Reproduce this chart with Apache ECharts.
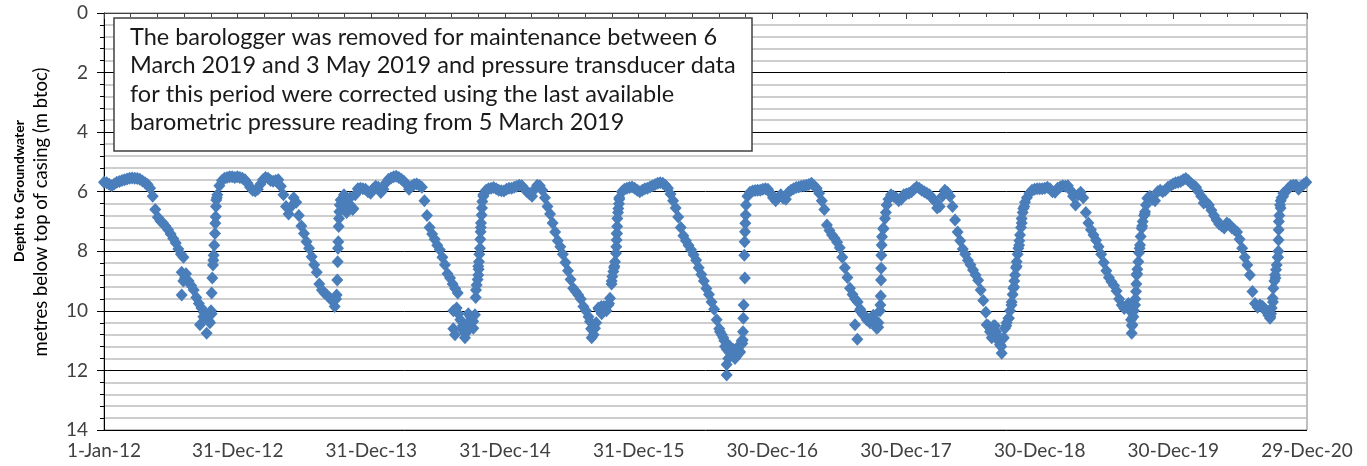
<!DOCTYPE html>
<html>
<head>
<meta charset="utf-8">
<script src="https://cdn.jsdelivr.net/npm/echarts@6/dist/echarts.min.js"></script>
<style>
  html, body { margin: 0; padding: 0; background: #fff; }
  #chart { width: 1367px; height: 466px; }
</style>
</head>
<body>
<div id="chart"></div>
<script>
  // weekly readings, depth in m btoc, counted from 1 Jan 2012 (7 days apart)
  const WEEK = 7;
  const depth2012 = [5.68, 5.7, 5.75, 5.8, 5.74, 5.68, 5.66, 5.62, 5.6, 5.57, 5.55, 5.54, 5.55, 5.56, 5.58, 5.64, 5.7, 5.76, 5.88, 6.15, 6.6, 6.86, 6.98, 7.05, 7.16, 7.28, 7.42, 7.57, 7.72, 7.92, 8.1, 8.2, 8.75, 9.0, 9.15, 9.3, 9.55, 9.75, 9.9, 10.05, 10.2, 10.35, 10.1, 7.8, 6.2, 5.8, 5.62, 5.55, 5.52, 5.5, 5.5, 5.52];
  const depth2013 = [5.5, 5.52, 5.55, 5.6, 5.72, 5.85, 5.95, 5.98, 5.92, 5.75, 5.6, 5.52, 5.55, 5.62, 5.65, 5.62, 5.6, 5.82, 6.1, 6.5, 6.75, 6.5, 6.2, 6.35, 6.8, 7.15, 7.4, 7.68, 7.9, 8.18, 8.45, 8.7, 9.1, 9.3, 9.4, 9.48, 9.56, 9.66, 9.85, 8.96, 6.45, 6.4, 6.3, 6.55, 6.45, 6.6, 6.1, 5.9, 5.88, 5.9, 5.92, 6.0];
  const depth2014 = [6.05, 5.9, 5.82, 5.85, 6.03, 5.92, 5.7, 5.58, 5.54, 5.5, 5.48, 5.52, 5.58, 5.65, 5.75, 5.92, 5.82, 5.76, 5.74, 5.78, 5.85, 6.3, 6.8, 7.2, 7.42, 7.6, 7.8, 7.95, 8.2, 8.45, 8.75, 8.9, 9.1, 9.25, 9.4, 10.3, 10.5, 10.75, 10.4, 10.2, 10.35, 9.55, 8.5, 7.2, 6.15, 5.95, 5.9, 5.88, 5.86, 5.9, 5.95, 5.97];
  const depth2015 = [5.98, 5.92, 5.88, 5.88, 5.85, 5.82, 5.78, 5.8, 5.9, 6.0, 6.08, 6.15, 5.92, 5.78, 5.8, 5.95, 6.2, 6.5, 6.75, 7.05, 7.35, 7.65, 7.85, 8.1, 8.38, 8.65, 8.95, 9.24, 9.35, 9.47, 9.6, 9.85, 10.0, 10.2, 10.6, 10.8, 10.4, 9.95, 9.85, 9.85, 10.0, 9.75, 9.1, 8.55, 7.4, 6.25, 6.0, 5.92, 5.88, 5.86, 5.84, 5.88];
  const depth2016 = [5.95, 6.0, 5.95, 5.9, 5.88, 5.84, 5.8, 5.76, 5.72, 5.7, 5.72, 5.78, 5.88, 6.08, 6.3, 6.55, 6.85, 7.2, 7.48, 7.65, 7.8, 7.95, 8.12, 8.3, 8.55, 8.78, 9.0, 9.25, 9.45, 9.7, 9.95, 10.3, 10.6, 10.8, 11.0, 11.3, 11.4, 11.35, 11.4, 11.5, 11.4, 11.1, 8.9, 6.15, 6.02, 5.98, 5.96, 5.95, 5.95, 5.92, 5.9, 5.92];
  const depth2017 = [6.05, 6.2, 6.3, 6.2, 6.1, 6.22, 6.25, 6.02, 5.95, 5.9, 5.86, 5.84, 5.82, 5.8, 5.78, 5.76, 5.72, 5.8, 5.88, 6.05, 6.3, 6.6, 7.12, 7.3, 7.45, 7.56, 7.7, 7.88, 8.2, 8.55, 8.88, 9.24, 9.45, 9.6, 9.7, 9.95, 10.1, 10.2, 10.28, 10.35, 10.25, 10.45, 10.55, 9.5, 7.25, 6.7, 6.25, 6.1, 6.15, 6.2, 6.3, 6.25];
  const depth2018 = [6.1, 6.08, 6.05, 6.0, 5.92, 5.84, 5.88, 5.95, 6.0, 6.05, 6.1, 6.2, 6.3, 6.55, 6.5, 6.15, 5.95, 6.02, 6.15, 6.5, 6.95, 7.35, 7.65, 7.92, 8.1, 8.3, 8.45, 8.63, 8.8, 8.97, 9.3, 9.65, 10.05, 10.5, 10.65, 10.5, 10.7, 10.95, 11.2, 10.9, 10.5, 10.25, 9.8, 9.2, 8.5, 7.8, 7.05, 6.5, 6.2, 6.05, 5.95, 5.92];
  const depth2019 = [5.9, 5.9, 5.9, 5.88, 5.85, 5.9, 6.0, 6.02, 5.88, 5.84, 5.8, 5.82, 5.8, 5.95, 6.15, 6.45, 6.1, 6.02, 6.2, 6.7, 7.05, 7.28, 7.45, 7.63, 7.85, 8.1, 8.38, 8.65, 8.88, 9.02, 9.15, 9.33, 9.6, 9.8, 9.92, 9.82, 9.95, 10.5, 9.8, 8.75, 7.9, 7.15, 6.75, 6.22, 6.15, 6.25, 6.3, 6.0, 5.95, 6.0, 5.95, 5.85];
  const depth2020 = [5.8, 5.74, 5.7, 5.68, 5.66, 5.6, 5.56, 5.62, 5.72, 5.78, 5.85, 6.0, 6.15, 6.38, 6.35, 6.45, 6.62, 6.8, 6.95, 7.08, 7.15, 7.22, 7.05, 7.1, 7.22, 7.28, 7.35, 7.6, 7.9, 8.2, 8.46, 8.8, 9.35, 9.75, 9.88, 9.82, 9.85, 9.95, 10.05, 10.2, 9.7, 8.9, 8.2, 6.55, 6.15, 6.0, 5.88, 5.8, 5.78, 5.78, 5.92, 5.82, 5.75, 5.68];

  // extra readings round the low points and fast recoveries: [day since 1 Jan 2012, depth]
  const low2012 = [[212.1, 8.7], [216.6, 9.0], [212.1, 9.47], [221.2, 8.9], [262.1, 10.47], [280.3, 10.75], [289.4, 10.4], [271.2, 10.2], [292.2, 10.0], [294.0, 9.4], [295.8, 8.9], [297.6, 8.46], [298.5, 8.3], [299.5, 8.13], [303.1, 7.4], [304.0, 7.06], [304.9, 6.84], [305.8, 6.5], [306.7, 6.28], [309.5, 6.1]];
  const low2013 = [[633.5, 9.6], [635.3, 9.47], [638.1, 8.35], [639.0, 7.9], [639.9, 7.68], [640.8, 7.17], [641.7, 6.9], [642.6, 6.67], [646.2, 6.28], [655.3, 6.1], [662.6, 6.7], [671.7, 6.2], [680.8, 6.56]];
  const low2014 = [[953.9, 10.0], [953.9, 10.6], [958.4, 10.8], [963.0, 9.9], [967.5, 10.1], [976.6, 10.6], [985.7, 10.9], [990.3, 10.7], [994.8, 10.1], [1003.9, 10.4], [1008.5, 10.58], [1013.0, 10.13], [1015.8, 9.3], [1017.6, 9.13], [1020.3, 8.95], [1022.1, 8.8], [1023.0, 8.6], [1023.9, 8.35], [1024.9, 8.1], [1026.7, 7.9], [1027.6, 7.6], [1028.5, 7.34], [1029.4, 7.05], [1031.2, 6.78], [1032.2, 6.55], [1033.1, 6.33], [1035.8, 6.1]];
  const low2015 = [[1327.1, 10.36], [1331.7, 10.9], [1340.8, 10.58], [1349.9, 9.9], [1359.0, 10.1], [1368.1, 9.9], [1377.2, 9.8], [1381.7, 9.58], [1386.3, 9.0], [1388.1, 8.85], [1390.8, 8.68], [1393.6, 8.5], [1395.4, 8.35], [1398.1, 8.07], [1399.0, 7.85], [1399.9, 7.62], [1400.8, 7.4], [1401.3, 7.17], [1401.7, 6.9], [1403.6, 6.7], [1404.5, 6.56], [1406.3, 6.4], [1407.2, 6.2]];
  const low2016 = [[1682.1, 10.7], [1691.2, 10.9], [1695.7, 11.2], [1700.3, 11.8], [1700.3, 12.15], [1704.8, 11.6], [1709.4, 11.2], [1718.5, 11.3], [1723.0, 11.6], [1727.6, 11.5], [1732.1, 11.2], [1736.7, 11.37], [1741.3, 11.0], [1744.0, 10.98], [1744.9, 10.7], [1745.8, 10.25], [1746.7, 9.8], [1748.5, 8.13], [1749.4, 7.68], [1750.4, 7.34], [1751.3, 7.06], [1752.2, 6.78], [1753.1, 6.45]];
  const low2017 = [[2050.8, 10.47], [2057.1, 10.95], [2064.4, 10.0], [2073.5, 10.14], [2082.6, 10.3], [2091.7, 10.4], [2100.8, 10.15], [2110.0, 10.58], [2114.5, 10.4], [2119.0, 10.0], [2120.0, 9.8], [2121.8, 8.96], [2122.2, 8.57], [2122.7, 8.13], [2123.6, 7.79], [2124.5, 7.51], [2128.1, 7.23], [2132.7, 6.9], [2137.2, 6.45]];
  const low2018 = [[2410.3, 10.47], [2419.4, 10.7], [2424.0, 10.9], [2433.1, 10.5], [2437.6, 10.8], [2442.2, 11.0], [2446.7, 11.14], [2451.3, 11.42], [2455.8, 10.92], [2460.4, 10.58], [2464.9, 10.4], [2469.5, 10.25], [2474.0, 10.0], [2478.6, 9.7], [2481.3, 9.45], [2483.1, 9.24], [2485.8, 9.0], [2487.7, 8.8], [2490.4, 8.55], [2492.2, 8.35], [2494.9, 8.1], [2496.8, 7.9], [2499.5, 7.65], [2501.3, 7.45], [2504.1, 7.2], [2505.9, 6.9], [2508.6, 6.7], [2510.4, 6.56], [2515.0, 6.35]];
  const low2019 = [[2797.2, 9.75], [2801.7, 10.0], [2804.5, 10.3], [2806.3, 10.75], [2808.1, 10.47], [2810.8, 10.2], [2812.7, 10.0], [2815.4, 9.8], [2816.3, 9.6], [2818.1, 9.35], [2819.0, 9.1], [2820.0, 8.8], [2821.8, 8.6], [2824.5, 8.35], [2826.3, 8.05], [2829.1, 7.79], [2830.9, 7.5], [2833.6, 7.23], [2836.3, 7.0], [2840.0, 6.8], [2842.7, 6.67], [2845.4, 6.45]];
  const low2020 = [[3156.7, 9.8], [3165.8, 9.9], [3175.0, 10.05], [3179.5, 10.15], [3184.0, 10.25], [3186.8, 10.1], [3188.6, 9.9], [3191.3, 9.58], [3193.1, 9.24], [3195.9, 9.0], [3197.7, 8.8], [3200.4, 8.62], [3202.2, 8.46], [3205.0, 8.2], [3206.8, 8.0], [3207.2, 7.62], [3207.7, 7.28], [3208.2, 7.0], [3209.5, 6.8], [3211.3, 6.45], [3213.2, 6.3], [3215.9, 6.2], [3220.4, 6.05]];

  const xTickLabels = ["1-Jan-12", "31-Dec-12", "31-Dec-13", "31-Dec-14", "31-Dec-15", "30-Dec-16", "30-Dec-17", "30-Dec-18", "30-Dec-19", "29-Dec-20"];
  const yTicks = [0, 2, 4, 6, 8, 10, 12, 14];
  const noteLines = [
    "The barologger was removed for maintenance between 6",
    "March 2019 and 3 May 2019 and pressure transducer data",
    "for this period were corrected using the last available",
    "barometric pressure reading from 5 March 2019"
  ];

  const FONT = "Lato, 'Noto Sans', sans-serif";
  const DAYS_PER_TICK = 365;

  const weekly = [depth2012, depth2013, depth2014, depth2015, depth2016, depth2017, depth2018, depth2019, depth2020]
    .flat()
    .map((d, i) => [i * WEEK, d]);
  const extra = [low2012, low2013, low2014, low2015, low2016, low2017, low2018, low2019, low2020].flat();
  const points = weekly.concat(extra);

  const chart = echarts.init(document.getElementById("chart"), null, { renderer: "canvas" });

  chart.setOption({
    animation: false,
    textStyle: { fontFamily: FONT },
    grid: {
      left: 104, right: 60, top: 13, bottom: 36,
      show: true, borderColor: "#808080", borderWidth: 1
    },
    xAxis: {
      type: "value",
      min: 0,
      max: DAYS_PER_TICK * (xTickLabels.length - 1),
      interval: DAYS_PER_TICK,
      axisLine: { show: true, lineStyle: { color: "#404040", width: 1 } },
      axisTick: { show: true, length: 6, lineStyle: { color: "#404040" } },
      minorTick: { show: true, splitNumber: 5, length: 4, lineStyle: { color: "#404040" } },
      splitLine: { show: false },
      axisLabel: {
        color: "#404040", fontSize: 19, margin: 11, fontFamily: FONT,
        showMinLabel: true, showMaxLabel: true,
        formatter: (v) => xTickLabels[Math.round(v / DAYS_PER_TICK)]
      }
    },
    yAxis: {
      type: "value",
      inverse: true,
      min: yTicks[0],
      max: yTicks[yTicks.length - 1],
      interval: 2,
      axisLine: { show: true, lineStyle: { color: "#000", width: 1 } },
      axisTick: { show: true, length: 7, lineStyle: { color: "#000" } },
      minorTick: { show: true, splitNumber: 5, length: 4, lineStyle: { color: "#000" } },
      splitLine: { show: true, lineStyle: { color: "#000", width: 1 } },
      minorSplitLine: { show: true, lineStyle: { color: "#bdbdbd", width: 1.5 } },
      axisLabel: { color: "#404040", fontSize: 19, margin: 16, fontFamily: FONT }
    },
    graphic: [
      {
        type: "text", x: 19, y: 191, rotation: Math.PI / 2,
        style: {
          text: "Depth to Groundwater", fontFamily: FONT, fontWeight: "bold", fontSize: 14,
          fill: "#000", align: "center", verticalAlign: "middle"
        }
      },
      {
        type: "text", x: 41, y: 212, rotation: Math.PI / 2,
        style: {
          text: "metres below top of casing (m btoc)", fontFamily: FONT, fontSize: 18.5,
          fill: "#000", align: "center", verticalAlign: "middle"
        }
      },
      {
        type: "rect", z: 100,
        shape: { x: 114, y: 18, width: 638, height: 133 },
        style: { fill: "#fff", stroke: "#404040", lineWidth: 1.5 }
      },
      {
        type: "text", z: 101, x: 130, y: 23,
        style: {
          text: noteLines.join("\n"), fontFamily: FONT, fontSize: 23.5, lineHeight: 28.4,
          fill: "#1a1a1a", align: "left", verticalAlign: "top"
        }
      }
    ],
    series: [{
      type: "scatter",
      data: points,
      symbol: "diamond",
      symbolSize: [12, 13],
      itemStyle: { color: "#4a7ebb", opacity: 1 },
      clip: false
    }]
  });

  window.addEventListener("resize", () => chart.resize());
</script>
</body>
</html>
